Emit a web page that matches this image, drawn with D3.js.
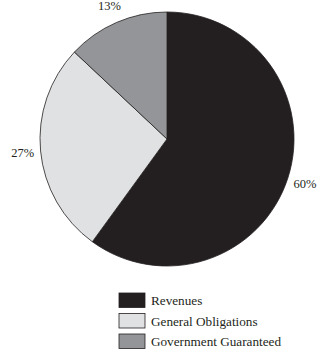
<!DOCTYPE html>
<html>
<head>
<meta charset="utf-8">
<script src="https://cdn.jsdelivr.net/npm/d3@7"></script>
<style>
  html, body { margin: 0; padding: 0; background: #fff; }
  svg { display: block; font-family: "Liberation Serif", "Times New Roman", serif; }
</style>
</head>
<body>
<svg id="chart" width="325" height="350"></svg>
<script>
// Share of portfolio by category
const categories = ["Revenues", "General Obligations", "Government Guaranteed"];
const shares = [60, 27, 13];
const colors = ["#231f20", "#e0e1e3", "#939598"];

const svg = d3.select("#chart");
const cx = 167, cy = 139, radius = 127, labelRadius = 145;

const pie = d3.pie().sort(null).value(d => d)(shares);
const arc = d3.arc().innerRadius(0).outerRadius(radius);
const labelArc = d3.arc().innerRadius(labelRadius).outerRadius(labelRadius);
const color = d3.scaleOrdinal().domain(d3.range(categories.length)).range(colors);

const g = svg.append("g").attr("transform", `translate(${cx},${cy})`);

g.selectAll("path.slice")
  .data(pie)
  .join("path")
  .attr("class", "slice")
  .attr("d", arc)
  .attr("fill", (d, i) => color(i))
  .attr("stroke", "#231f20")
  .attr("stroke-width", 0.8);

g.selectAll("text.pct")
  .data(pie)
  .join("text")
  .attr("class", "pct")
  .attr("transform", d => `translate(${labelArc.centroid(d)})`)
  .attr("text-anchor", "middle")
  .attr("dominant-baseline", "central")
  .attr("font-size", 12.5)
  .attr("fill", "#231f20")
  .text(d => d.data + "%");

// Legend
const legend = svg.append("g").attr("transform", "translate(119,293)");
const row = legend.selectAll("g")
  .data(categories)
  .join("g")
  .attr("transform", (d, i) => `translate(0,${i * 20.5})`);

row.append("rect")
  .attr("width", 26)
  .attr("height", 14.5)
  .attr("fill", (d, i) => color(i))
  .attr("stroke", "#231f20")
  .attr("stroke-width", 0.8);

row.append("text")
  .attr("x", 32)
  .attr("y", 12)
  .attr("font-size", 13.2)
  .attr("fill", "#231f20")
  .text(d => d);
</script>
</body>
</html>
